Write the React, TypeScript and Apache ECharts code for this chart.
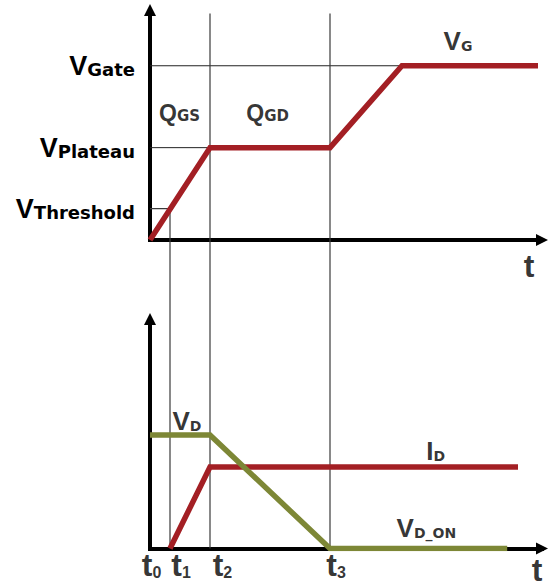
import React, { useEffect, useRef } from "react";
import * as echarts from "echarts";

// ---- colours -------------------------------------------------------------
const RED = "#A31F24";
const OLIVE = "#7D8736";
const GUIDE = "#3a3a3a";

// ---- time axis (arbitrary units) ----------------------------------------
const T_MAX = 98;
const T1 = 5;
const T2 = 15;
const T3 = 45;

// ---- gate voltage (top panel) -------------------------------------------
const VG_AXIS_MAX = 13.2;
const V_THRESHOLD = 1.8;
const V_PLATEAU = 5.3;
const V_GATE = 10;
const vgTime = [0, T2, T3, 63, 97];
const vgValue = [0, V_PLATEAU, V_PLATEAU, V_GATE, V_GATE];
const gateGuideEnd = 66.25;
const guideTop = 13;

// ---- drain current / voltage (bottom panel) -----------------------------
const BOTTOM_AXIS_MAX = 20;
const vdTime = [0, T2, T3, 89.3];
const vdValue = [9.9, 9.9, 0, 0];
const idTime = [T1, T2, 92];
const idValue = [0, 7.1, 7.1];

// ---- y tick labels for the gate panel -----------------------------------
const gateTicks = [V_THRESHOLD, V_PLATEAU, V_GATE];
const gateTickNames = ["Threshold", "Plateau", "Gate"];

// ---- annotations (data coordinates) --------------------------------------
type Note = { x: number; y: number; main: string; sub: string; kind: string };

const topNotes: Note[] = [
  { x: 7.4, y: 7.3, main: "Q", sub: "GS", kind: "q" },
  { x: 29.4, y: 7.3, main: "Q", sub: "GD", kind: "q" },
  { x: 77, y: 11.42, main: "V", sub: "G", kind: "v" },
  { x: 94.75, y: -1.5, main: "t", sub: "", kind: "t" },
];

const bottomNotes: Note[] = [
  { x: 9.25, y: 11.1, main: "V", sub: "D", kind: "v" },
  { x: 71.4, y: 8.5, main: "I", sub: "D", kind: "v" },
  { x: 69.1, y: 1.8, main: "V", sub: "D_ON", kind: "v" },
  { x: 0.4, y: -1.45, main: "t", sub: "0", kind: "t" },
  { x: 7.75, y: -1.45, main: "t", sub: "1", kind: "t" },
  { x: 18.1, y: -1.45, main: "t", sub: "2", kind: "t" },
  { x: 46.5, y: -1.45, main: "t", sub: "3", kind: "t" },
  { x: 96.75, y: -1.9, main: "t", sub: "", kind: "t" },
];

const SANS = "'Liberation Sans', Arial, sans-serif";
const WIDE = "'DejaVu Sans', sans-serif";

const tok = (size: number, family: string, pad = 0) => ({
  fontSize: size,
  fontWeight: "bold" as const,
  fontFamily: family,
  color: "#000",
  verticalAlign: "bottom" as const,
  padding: [0, 0, pad, 0],
});

const noteRich = {
  qm: tok(23, SANS),
  qs: tok(15, WIDE, 1),
  vm: tok(26, SANS),
  vs: tok(14, WIDE, 1),
  tm: tok(32, SANS),
  ts: tok(16, SANS, 1),
};

const pairs = (xs: number[], ys: number[]) => xs.map((x, i) => [x, ys[i]]);

function noteSeries(notes: Note[], axis: number) {
  return {
    type: "scatter",
    xAxisIndex: axis,
    yAxisIndex: axis,
    symbolSize: 0,
    silent: true,
    clip: false,
    z: 5,
    data: notes.map((n) => ({
      value: [n.x, n.y],
      label: {
        show: true,
        position: "inside",
        formatter: n.sub
          ? `{${n.kind}m|${n.main}}{${n.kind}s|${n.sub}}`
          : `{${n.kind}m|${n.main}}`,
        rich: noteRich,
      },
    })),
  };
}

function guide(axis: number, data: number[][], color = GUIDE, width = 1.2) {
  return {
    type: "line",
    xAxisIndex: axis,
    yAxisIndex: axis,
    data,
    symbol: "none",
    silent: true,
    z: 1,
    lineStyle: { color, width },
  };
}

function signal(axis: number, data: number[][], color: string) {
  return {
    type: "line",
    xAxisIndex: axis,
    yAxisIndex: axis,
    data,
    symbol: "none",
    silent: true,
    z: 3,
    lineStyle: { color, width: 5.5, join: "miter" },
  };
}

const axisLine = {
  show: true,
  symbol: ["none", "triangle"],
  symbolSize: [12, 12],
  lineStyle: { color: "#000", width: 4, cap: "square" },
};

function xAxis(index: number, visible: boolean) {
  return {
    gridIndex: index,
    type: "value",
    min: 0,
    max: T_MAX,
    show: visible,
    axisLine: visible ? axisLine : { show: false },
    axisTick: { show: false },
    axisLabel: { show: false },
    splitLine: { show: false },
  };
}

export default function App() {
  const ref = useRef<HTMLDivElement>(null);

  useEffect(() => {
    if (!ref.current) return;
    const chart = echarts.init(ref.current, null, { renderer: "svg" });

    const option = {
      animation: false,
      backgroundColor: "#fff",
      grid: [
        { left: 150, width: T_MAX * 4, top: 10, height: 230, outerBoundsMode: "none" },
        { left: 150, width: T_MAX * 4, top: 319, bottom: 38.5, outerBoundsMode: "none" },
        { left: 150, width: T_MAX * 4, top: 240, bottom: 38.5, outerBoundsMode: "none" },
      ],
      xAxis: [xAxis(0, true), xAxis(1, true), xAxis(2, false)],
      yAxis: [
        {
          gridIndex: 0,
          type: "value",
          min: 0,
          max: VG_AXIS_MAX,
          axisLine,
          axisTick: { show: false },
          splitLine: { show: false },
          axisLabel: {
            show: true,
            customValues: gateTicks,
            margin: 15,
            formatter: (v: number) => {
              const i = gateTicks.findIndex((g) => Math.abs(g - v) < 1e-6);
              return i < 0 ? "" : `{m|V}{s|${gateTickNames[i]}}`;
            },
            rich: { m: tok(27, SANS), s: tok(18, WIDE, 1) },
          },
        },
        {
          gridIndex: 1,
          type: "value",
          min: 0,
          max: BOTTOM_AXIS_MAX,
          axisLine,
          axisTick: { show: false },
          splitLine: { show: false },
          axisLabel: { show: false },
        },
        { gridIndex: 2, type: "value", min: 0, max: 1, show: false },
      ],
      series: [
        // reference levels on the gate panel
        guide(0, [[0, V_THRESHOLD], [T1, V_THRESHOLD], [T1, 0]]),
        guide(0, [[0, V_PLATEAU], [T2, V_PLATEAU]], "#222", 1),
        guide(0, [[0, V_GATE], [gateGuideEnd, V_GATE]], "#222", 1),
        guide(0, [[T2, guideTop], [T2, 0]]),
        guide(0, [[T3, guideTop], [T3, 0]]),
        // time markers running down through the drain panel
        guide(2, [[T1, 0], [T1, 1]]),
        guide(2, [[T2, 0], [T2, 1]]),
        guide(2, [[T3, 0], [T3, 1]]),
        // waveforms
        signal(0, pairs(vgTime, vgValue), RED),
        signal(1, pairs(idTime, idValue), RED),
        signal(1, pairs(vdTime, vdValue), OLIVE),
        noteSeries(topNotes, 0),
        noteSeries(bottomNotes, 1),
      ],
    };

    chart.setOption(option as any);
    return () => chart.dispose();
  }, []);

  return (
    <div
      ref={ref}
      style={{ position: "absolute", left: 0, top: 0, width: 549, height: 587, background: "#fff" }}
    />
  );
}
